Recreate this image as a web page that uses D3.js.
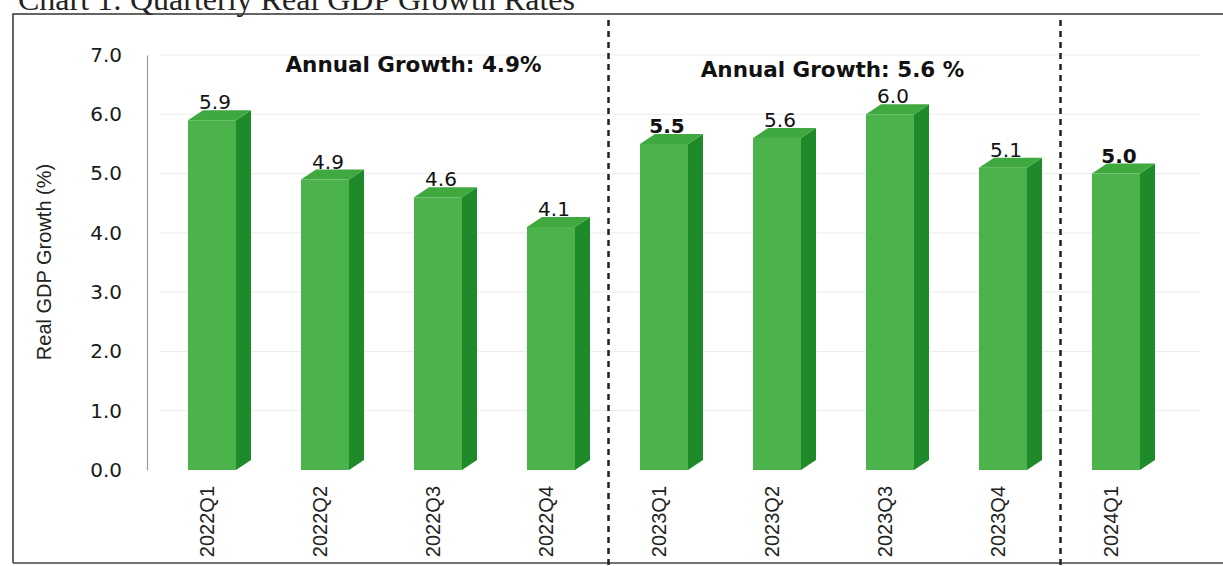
<!DOCTYPE html>
<html><head><meta charset="utf-8">
<script src="https://cdn.jsdelivr.net/npm/d3@7"></script>
<style>html,body{margin:0;padding:0;background:#fff;overflow:hidden}</style>
</head><body>
<svg id="c" width="1223" height="566"></svg>
<script>
const categories = ["2022Q1","2022Q2","2022Q3","2022Q4","2023Q1","2023Q2","2023Q3","2023Q4","2024Q1"];
const values = [5.9, 4.9, 4.6, 4.1, 5.5, 5.6, 6.0, 5.1, 5.0];
const boldLabels = ["2023Q1","2024Q1"];
const yTicks = [0,1,2,3,4,5,6,7];
const annualNotes = [{text:"Annual Growth: 4.9%", from:"2022Q1", to:"2022Q4"},{text:"Annual Growth: 5.6 %", from:"2023Q1", to:"2023Q4"}];
const dividersAfter = ["2022Q4","2023Q4"];
const title = "Chart 1: Quarterly Real GDP Growth Rates";
const yTitle = "Real GDP Growth (%)";

const svg = d3.select("#c");
const x = d3.scalePoint().domain(categories).range([156.5,1173.5]).padding(0.5);
const y = d3.scaleLinear().domain([0,7]).range([470,55]);
const step = x.step();

// title (cut off at top, as in the scanned reference)
svg.append("text").attr("x",18).attr("y",10).attr("font-family","Liberation Serif").attr("font-size",32).attr("fill","#222").text(title);

// frame
svg.append("path").attr("d","M13,563 L13,14 L1223,14").attr("fill","none").attr("stroke","#333").attr("stroke-width",1.5);
svg.append("line").attr("x1",13).attr("x2",1223).attr("y1",563).attr("y2",563).attr("stroke","#444").attr("stroke-width",1.5);

// gridlines
svg.append("g").selectAll("line").data(yTicks.slice(1)).join("line")
  .attr("x1",160).attr("x2",1200).attr("y1",d=>y(d)).attr("y2",d=>y(d))
  .attr("stroke","#ececec").attr("stroke-width",1);

// y axis
const ya = svg.append("g").attr("transform","translate(147,0)")
  .call(d3.axisLeft(y).tickValues(yTicks).tickFormat(d3.format(".1f")).tickSize(0).tickPadding(25));
ya.select(".domain").attr("stroke","#999").attr("stroke-width",1.2);
ya.selectAll("text").attr("font-family","DejaVu Sans").attr("font-size",20).attr("font-weight",500).attr("fill","#1a1a1a");

svg.append("text").attr("transform","translate(51,262) rotate(-90)").attr("text-anchor","middle")
  .attr("font-family","Liberation Sans Narrow, Liberation Sans").attr("font-size",20).attr("fill","#222").text(yTitle);

// bars
const fw = 48, dx = 15, dy = 10;
const g = svg.append("g");
categories.forEach((c,i)=>{
  const cx = x(c), x0 = cx-25, x1 = x0+fw, yt = y(values[i]), yb = y(0);
  g.append("path").attr("d",`M${x1},${yt} L${x1+dx},${yt-dy} L${x1+dx},${yb-dy} L${x1},${yb} Z`).attr("fill","#1f8a2a");
  g.append("path").attr("d",`M${x0},${yt} L${x0+dx},${yt-dy} L${x1+dx},${yt-dy} L${x1},${yt} Z`).attr("fill","#3fa83f");
  g.append("rect").attr("x",x0).attr("y",yt).attr("width",fw).attr("height",yb-yt).attr("fill","#4cb34c");
  g.append("text").attr("x",cx+2).attr("y",yt-11).attr("text-anchor","middle")
    .attr("font-family","DejaVu Sans").attr("font-size",20)
    .attr("font-weight",boldLabels.includes(c)?"bold":"normal").attr("fill","#111").text(d3.format(".1f")(values[i]));
  g.append("text").attr("transform",`translate(${cx-6},486) rotate(-90)`).attr("text-anchor","end").attr("dy","0.35em")
    .attr("font-family","Liberation Sans Narrow, Liberation Sans").attr("font-size",20).attr("fill","#222").text(c);
});

// dividers
dividersAfter.forEach(c=>{
  const xi = x(c)+step/2;
  svg.append("line").attr("x1",xi).attr("x2",xi).attr("y1",20).attr("y2",566)
    .attr("stroke","#222").attr("stroke-width",2.5).attr("stroke-dasharray","6,5");
});

// annual notes
annualNotes.forEach((n,i)=>{
  const cx = (x(n.from)+x(n.to))/2 + 31 - i*33;
  svg.append("text").attr("x",cx).attr("y",72+i*5).attr("text-anchor","middle")
    .attr("font-family","DejaVu Sans").attr("font-weight","bold").attr("font-size",21.5).attr("fill","#111").text(n.text);
});
</script>
</body></html>
